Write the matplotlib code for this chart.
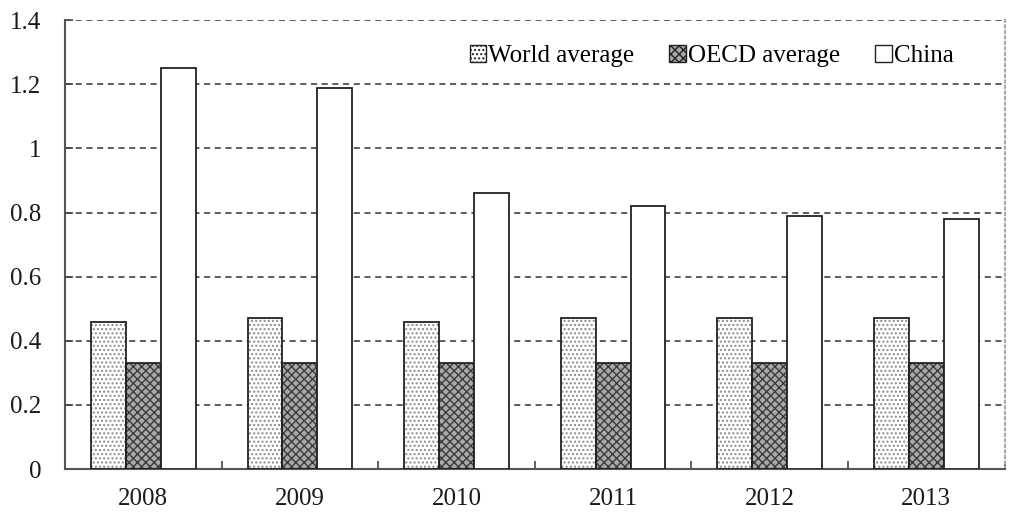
import matplotlib
matplotlib.use('Agg')
from matplotlib import pyplot as plt
from matplotlib.patches import Patch
import numpy as np

years = ['2008', '2009', '2010', '2011', '2012', '2013']
world = [0.46, 0.47, 0.46, 0.47, 0.47, 0.47]
oecd = [0.33, 0.33, 0.33, 0.33, 0.33, 0.33]
china = [1.25, 1.19, 0.86, 0.82, 0.79, 0.78]

plt.rcParams['font.family'] = ['Liberation Serif', 'DejaVu Serif']
plt.rcParams['hatch.linewidth'] = 1.0

fig = plt.figure(figsize=(10.24, 5.17), dpi=100)
ax = fig.add_axes([0.0635, 0.0928, 0.9175, 0.868])

x = np.arange(len(years))
w = 0.223

# hatched fills first, outlines on top
ax.bar(x - w, world, w, color='white', edgecolor='#8a8a8a', hatch='....', linewidth=0, zorder=2)
ax.bar(x, oecd, w, color='#a8a8a8', edgecolor='#3c3c3c', hatch='xxxx', linewidth=0, zorder=2)
ax.bar(x - w, world, w, fill=False, edgecolor='#222222', linewidth=1.3, zorder=3)
ax.bar(x, oecd, w, fill=False, edgecolor='#222222', linewidth=1.3, zorder=3)
ax.bar(x + w, china, w, color='white', edgecolor='#222222', linewidth=1.3, zorder=3)

handles = [Patch(facecolor='white', edgecolor='#222222', hatch='....', linewidth=1),
           Patch(facecolor='#a8a8a8', edgecolor='#222222', hatch='xxxx', linewidth=1),
           Patch(facecolor='white', edgecolor='#222222', linewidth=1)]
ax.legend(handles, ['World average', 'OECD average', 'China'], loc='upper right',
          ncol=3, frameon=False, fontsize=18, handlelength=0.65, handleheight=0.65,
          handletextpad=0.1, columnspacing=1.4, bbox_to_anchor=(0.97, 0.995))

ax.set_xlim(-0.5, len(years) - 0.5)
ax.set_ylim(0, 1.4)
ax.set_yticks(np.arange(0, 1.41, 0.2))
ax.set_yticklabels(['0', '0.2', '0.4', '0.6', '0.8', '1', '1.2', '1.4'])
ax.set_xticks(x)
ax.set_xticklabels(years)
ax.set_xticks(np.arange(-0.5, len(years), 1.0), minor=True)

ax.tick_params(axis='y', direction='in', length=6, width=1.2, color='#444444',
               labelsize=18, pad=17, labelcolor='#1a1a1a')
ax.tick_params(axis='x', which='major', length=0, labelsize=18, pad=14, labelcolor='#1a1a1a')
ax.tick_params(axis='x', which='minor', direction='in', length=6, width=1.2, color='#444444')

ax.yaxis.grid(True, linestyle=(0, (4, 3)), color='#333333', linewidth=1.1, zorder=1)
ax.set_axisbelow(True)

for s in ['left', 'bottom']:
    ax.spines[s].set_color('#555555')
    ax.spines[s].set_linewidth(1.5)
ax.spines['top'].set_visible(False)
ax.spines['right'].set_color('#aaaaaa')
ax.spines['right'].set_linestyle(':')
ax.spines['right'].set_linewidth(1.5)

fig.savefig('out.png', dpi=100)
